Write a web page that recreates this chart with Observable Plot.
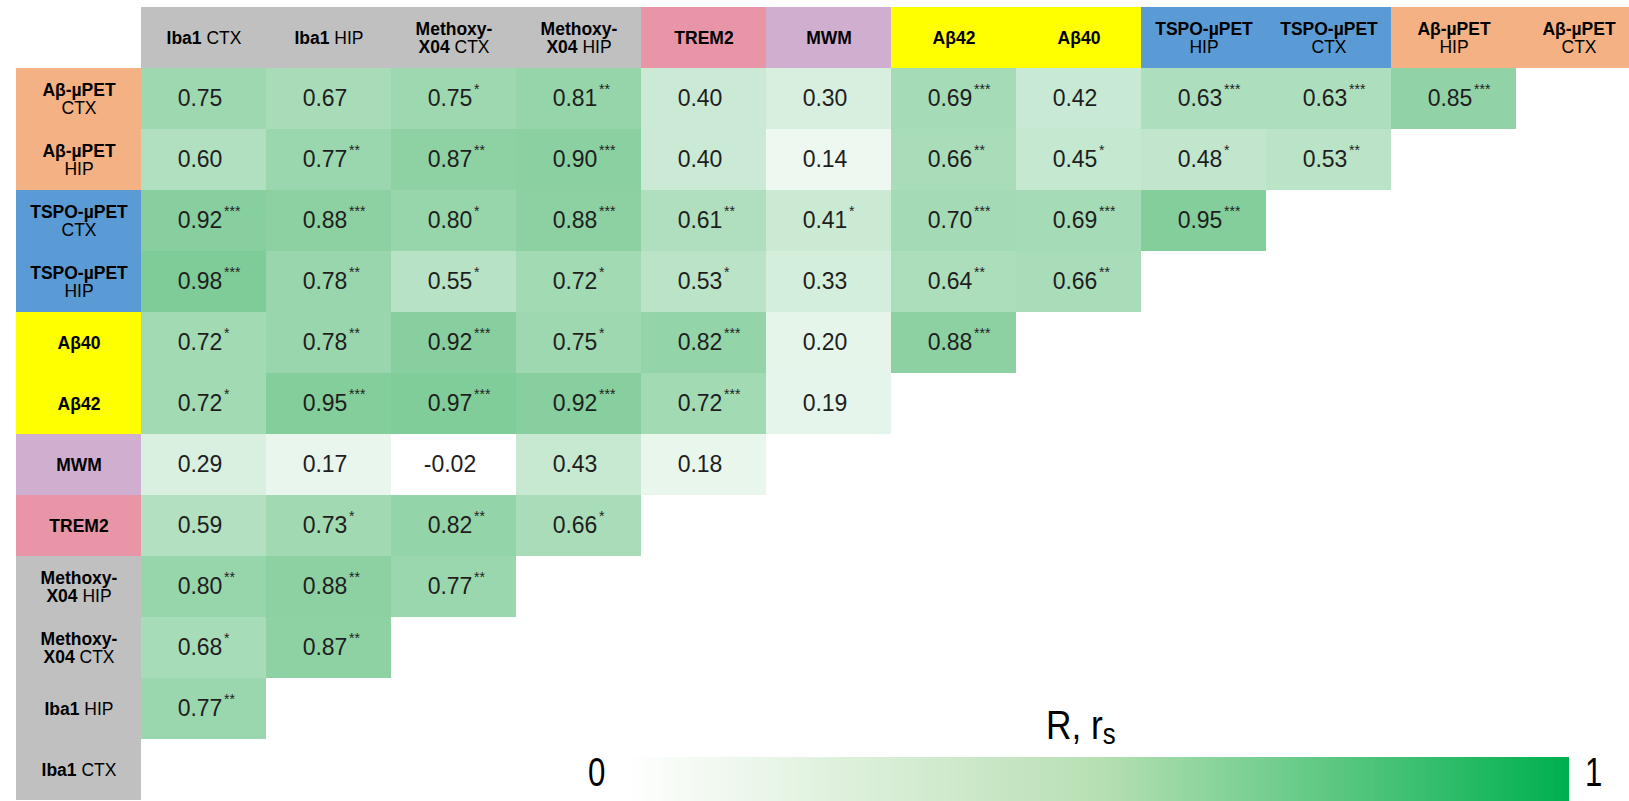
<!DOCTYPE html>
<html><head><meta charset="utf-8">
<script src="https://cdn.jsdelivr.net/npm/d3@7"></script>
<script src="https://cdn.jsdelivr.net/npm/@observablehq/plot@0.6"></script>
<style>
html,body{margin:0;padding:0;background:#fff;overflow:hidden;}
#wrap{position:relative;width:1629px;height:801px;overflow:hidden;}
#chart svg{overflow:hidden;display:block;}
.lg{position:absolute;font-family:"Liberation Sans",Arial,sans-serif;color:#000;line-height:1;white-space:nowrap;transform:scaleX(0.78);transform-origin:left top;}
</style></head><body>
<div id="wrap">
  <div id="chart"></div>
  <div id="legend" style="position:absolute;left:621px;top:757px;"></div>
  <div class="lg" style="left:588px;top:752px;font-size:40px;">0</div>
  <div class="lg" style="left:1585px;top:752px;font-size:40px;">1</div>
  <div class="lg" style="left:1046px;top:705px;font-size:41px;transform:scaleX(0.86);">R, r<span style="font-size:30px;position:relative;top:5px;">s</span></div>
</div>
<script>
// Column labels (bold part in braces)
const columns = ["{Iba1} CTX", "{Iba1} HIP", "{Methoxy-}\n{X04} CTX", "{Methoxy-}\n{X04} HIP", "{TREM2}", "{MWM}", "{Aβ42}", "{Aβ40}", "{TSPO-µPET}\nHIP", "{TSPO-µPET}\nCTX", "{Aβ-µPET}\nHIP", "{Aβ-µPET}\nCTX"];
const columnColors = ["#c0c0c0", "#c0c0c0", "#c0c0c0", "#c0c0c0", "#e795a7", "#d0aed0", "#ffff00", "#ffff00", "#5b9bd5", "#5b9bd5", "#f4b183", "#f4b183"];
const rows = ["{Aβ-µPET}\nCTX", "{Aβ-µPET}\nHIP", "{TSPO-µPET}\nCTX", "{TSPO-µPET}\nHIP", "{Aβ40}", "{Aβ42}", "{MWM}", "{TREM2}", "{Methoxy-}\n{X04} HIP", "{Methoxy-}\n{X04} CTX", "{Iba1} HIP", "{Iba1} CTX"];
const rowColors = ["#f4b183", "#f4b183", "#5b9bd5", "#5b9bd5", "#ffff00", "#ffff00", "#d0aed0", "#e795a7", "#c0c0c0", "#c0c0c0", "#c0c0c0", "#c0c0c0"];

const values = [
  [0.75, 0.67, 0.75, 0.81, 0.40, 0.30, 0.69, 0.42, 0.63, 0.63, 0.85],
  [0.60, 0.77, 0.87, 0.90, 0.40, 0.14, 0.66, 0.45, 0.48, 0.53],
  [0.92, 0.88, 0.80, 0.88, 0.61, 0.41, 0.70, 0.69, 0.95],
  [0.98, 0.78, 0.55, 0.72, 0.53, 0.33, 0.64, 0.66],
  [0.72, 0.78, 0.92, 0.75, 0.82, 0.20, 0.88],
  [0.72, 0.95, 0.97, 0.92, 0.72, 0.19],
  [0.29, 0.17, -0.02, 0.43, 0.18],
  [0.59, 0.73, 0.82, 0.66],
  [0.80, 0.88, 0.77],
  [0.68, 0.87],
  [0.77],
  []
];
const significance = [
  ["", "", "*", "**", "", "", "***", "", "***", "***", "***"],
  ["", "**", "**", "***", "", "", "**", "*", "*", "**"],
  ["***", "***", "*", "***", "**", "*", "***", "***", "***"],
  ["***", "**", "*", "*", "*", "", "**", "**"],
  ["*", "**", "***", "*", "***", "", "***"],
  ["*", "***", "***", "***", "***", ""],
  ["", "", "", "", ""],
  ["", "*", "**", "*"],
  ["**", "**", "**"],
  ["*", "**"],
  ["**"],
  []
];
const legendStops = [0, 0.55, 1];
const legendColors = ["#ffffff", "#b9e0b5", "#00b050"];

const data = rows.flatMap((r, i) => values[i].map((v, j) => ({row: r, col: columns[j], r: v, sig: significance[i][j]})));
const boxes = columns.map((c, i) => ({x: c, y: "header", color: columnColors[i]}))
  .concat(rows.map((r, i) => ({x: "label", y: r, color: rowColors[i]})));
const boxColors = [...new Set(boxes.map(d => d.color))];

const colW = 125.7;
const plot = Plot.plot({
  width: 1629, height: 801,
  marginTop: 0, marginBottom: 0, marginLeft: 0, marginRight: 0,
  x: {type: "band", domain: ["label", ...columns], range: [11.8, 11.8 + 13 * colW], padding: 0, axis: null},
  y: {type: "band", domain: ["header", ...rows], range: [7, 800], padding: 0, axis: null},
  color: {type: "linear", domain: [0, 1], range: ["#ffffff", "#7dcb96"], clamp: true},
  style: {fontFamily: '"Liberation Sans", Arial, Helvetica, sans-serif', background: "#fff", overflow: "hidden"},
  marks: [
    ...boxColors.map(c => Plot.cell(boxes.filter(d => d.color === c), {x: "x", y: "y", fill: c, shapeRendering: "crispEdges"})),
    Plot.cell(data, {x: "col", y: "row", fill: "r", shapeRendering: "crispEdges"}),
    Plot.text(data, {x: "col", y: "row", text: d => d.r.toFixed(2), dx: -4, fontSize: 23, fill: "#1e1e1e"}),
    Plot.text(data.filter(d => d.sig), {x: "col", y: "row", text: "sig", dx: 20, dy: -9, textAnchor: "start", fontSize: 14, fill: "#1e1e1e"}),
    Plot.text(boxes, {x: "x", y: "y", text: d => d.x === "label" ? d.y : d.x, fontSize: 17.5, lineHeight: 1.05, fill: "#000"})
  ]
});

// bold segments marked with braces
plot.querySelectorAll("text").forEach(t => {
  const spans = t.querySelectorAll("tspan");
  const targets = spans.length ? [...spans] : [t];
  targets.forEach(el => {
    const s = el.textContent;
    if (!s.includes("{")) return;
    el.textContent = "";
    s.split(/(\{[^}]*\})/).filter(p => p).forEach(p => {
      const ts = document.createElementNS("http://www.w3.org/2000/svg", "tspan");
      if (p.startsWith("{")) { ts.setAttribute("font-weight", "bold"); ts.textContent = p.slice(1, -1); }
      else ts.textContent = p;
      el.appendChild(ts);
    });
  });
});
document.getElementById("chart").appendChild(plot);

const legend = Plot.legend({
  color: {type: "linear", domain: legendStops, range: legendColors},
  width: 948, height: 44, marginTop: 0, marginBottom: 0, marginLeft: 0, marginRight: 0,
  tickSize: 0, ticks: [], tickFormat: () => "", label: null
});
document.getElementById("legend").appendChild(legend);
</script>
</body></html>
